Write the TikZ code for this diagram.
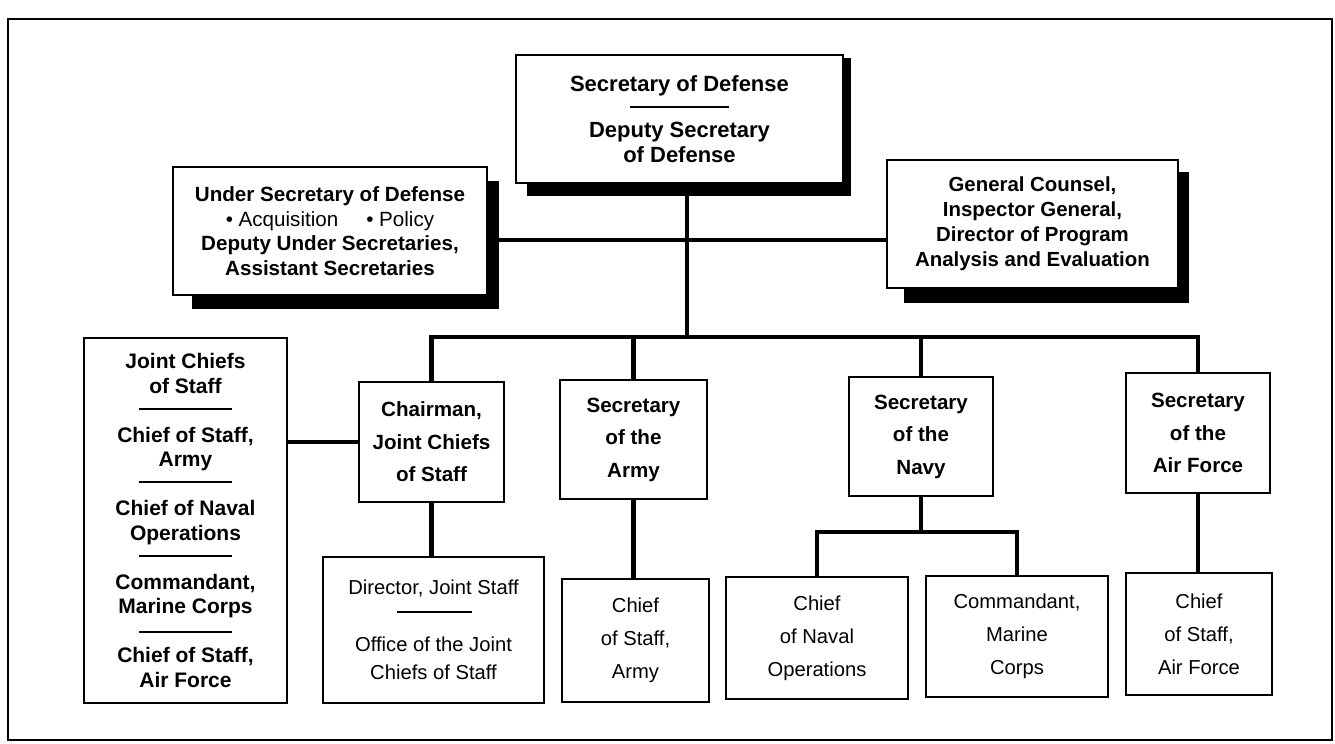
\documentclass[tikz,border=0pt]{standalone}
\usepackage{fontspec}
\setmainfont{Liberation Sans}
\usetikzlibrary{calc,backgrounds}
\begin{document}
\begin{tikzpicture}[x=0.5pt,y=-0.5pt,
  box/.style={draw, line width=1pt, fill=white, inner sep=0pt, align=center},
  topfont/.style={font=\bfseries\fontsize{10.3}{12.3}\selectfont},
  midfont/.style={font=\bfseries\fontsize{10.3}{16.25}\selectfont},
  lowfont/.style={font=\fontsize{10.1}{16.5}\selectfont},
  conn/.style={line width=2.4pt},
  sepline/.style={line width=1.1pt},
  shadowfill/.style={fill=black}]
\useasboundingbox (0,0) rectangle (1335,744);
\draw[line width=1pt] (8,19) rectangle (1332,740);

% top level boxes
\node[box, minimum width=163.5pt, minimum height=64pt,
  font=\bfseries\fontsize{11}{12.5}\selectfont] (sd) at (679.5,119)
  {Secretary of Defense\\[10.5pt]Deputy Secretary\\of Defense};
\node[box, topfont, minimum width=157pt, minimum height=64pt] (usd) at (330,231)
  {Under Secretary of Defense\\{\mdseries\textbullet\ Acquisition\hspace{14pt}\textbullet\ Policy}\\Deputy Under Secretaries,\\Assistant Secretaries};
\node[box, font=\bfseries\fontsize{10.2}{12.5}\selectfont, minimum width=145.5pt, minimum height=64pt] (gc) at (1032.5,224)
  {General Counsel,\\Inspector General,\\Director of Program\\Analysis and Evaluation};
\draw[sepline] (630,107) -- (729,107);

% shadows behind the top boxes
\begin{scope}[on background layer]
\fill[shadowfill] ($(sd.north west)+(12,4)$) rectangle ($(sd.south east)+(7,12)$);
\fill[shadowfill] ($(usd.north west)+(20,15)$) rectangle ($(usd.south east)+(11,13)$);
\fill[shadowfill] ($(gc.north west)+(18,13)$) rectangle ($(gc.south east)+(10,14)$);
\end{scope}

% joint chiefs box
\node[box, font=\bfseries\fontsize{10.5}{12.25}\selectfont, minimum width=101.5pt, minimum height=182.5pt] (jcs) at (185.5,520.5)
  {Joint Chiefs\\of Staff\\[12.25pt]Chief of Staff,\\Army\\[12.25pt]Chief of Naval\\Operations\\[12.25pt]Commandant,\\Marine Corps\\[12.25pt]Chief of Staff,\\Air Force};
\draw[sepline] (139,409) -- (232,409);
\draw[sepline] (139,482) -- (232,482);
\draw[sepline] (139,556) -- (232,556);
\draw[sepline] (139,632) -- (232,632);

% second level
\node[box, midfont, minimum width=72.5pt, minimum height=60pt] (chair) at (431.5,442) {Chairman,\\Joint Chiefs\\of Staff};
\node[box, midfont, minimum width=73.5pt, minimum height=59.5pt] (army) at (633.5,439.5) {Secretary\\of the\\Army};
\node[box, midfont, minimum width=72pt, minimum height=59.5pt] (navy) at (921,436.5) {Secretary\\of the\\Navy};
\node[box, midfont, minimum width=72pt, minimum height=60pt] (af) at (1198,433) {Secretary\\of the\\Air Force};

% third level
\node[box, font=\fontsize{10.1}{14}\selectfont, minimum width=110.5pt, minimum height=73pt] (dir) at (433.5,630)
  {Director, Joint Staff\\[14.5pt]Office of the Joint\\Chiefs of Staff};
\draw[sepline] (397,612) -- (472,612);
\node[box, lowfont, minimum width=73.5pt, minimum height=61.5pt] (csa) at (635.5,640.5) {Chief\\of Staff,\\Army};
\node[box, lowfont, minimum width=91pt, minimum height=61pt] (cno) at (817,638) {Chief\\of Naval\\Operations};
\node[box, lowfont, minimum width=91pt, minimum height=60.5pt] (cmc) at (1017,636.5) {Commandant,\\Marine\\Corps};
\node[box, lowfont, minimum width=73pt, minimum height=61pt] (csaf) at (1199,634) {Chief\\of Staff,\\Air Force};

% connectors
\coordinate (trunktop) at (687,183);
\coordinate (trunkmid) at (687,240);
\coordinate (bus) at (687,337);
\coordinate (nfork) at (921,532);
\draw[conn] (trunktop) -- (bus);
\draw[conn] (usd.east |- trunkmid) -- (gc.west |- trunkmid);
\draw[conn] (chair.north) -- (chair.north |- bus) -- (af.north |- bus) -- (af.north);
\draw[conn] (army.north) -- (army.north |- bus);
\draw[conn] (navy.north) -- (navy.north |- bus);
\draw[conn] (chair.west) -- (chair.west -| jcs.east);
\draw[conn] (chair.south) -- (chair.south |- dir.north);
\draw[conn] (army.south) -- (army.south |- csa.north);
\draw[conn] (af.south) -- (af.south |- csaf.north);
\draw[conn] (navy.south) -- (nfork);
\draw[conn] (cno.north) -- (cno.north |- nfork) -- (cmc.north |- nfork) -- (cmc.north);
\end{tikzpicture}
\end{document}
